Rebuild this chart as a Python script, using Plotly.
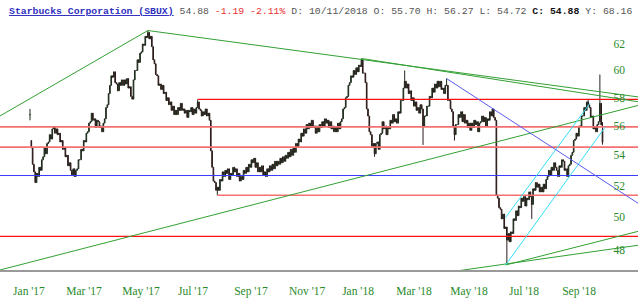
import math
import plotly.graph_objects as go

# ---------------- data ----------------
closes = [
    56.8, 54.5, 53.4, 52.9, 52.2, 52.8, 52.6, 53.2, 53.0, 53.7,
    53.9, 54.5, 54.1, 54.8, 54.9, 55.4, 55.1, 55.8, 55.9, 55.5,
    55.8, 55.4, 55.5, 54.9, 55.0, 54.4, 54.5, 53.9, 54.0, 53.3,
    53.5, 53.0, 52.7, 53.1, 52.6, 53.0, 53.1, 53.7, 53.7, 54.4,
    54.3, 55.0, 54.9, 55.5, 55.6, 56.2, 56.3, 56.9, 56.4, 56.5,
    55.9, 56.4, 56.3, 55.9, 56.0, 55.6, 56.2, 56.5, 57.3, 57.5,
    58.3, 58.9, 59.6, 59.5, 59.9, 59.1, 59.0, 58.5, 59.1, 58.9,
    59.3, 58.9, 59.3, 59.0, 59.4, 58.7, 58.8, 58.1, 57.9, 59.3,
    60.0, 60.0, 60.8, 60.6, 61.3, 61.4, 62.0, 61.9, 62.6, 62.5,
    62.9, 62.4, 62.6, 61.8, 60.8, 60.5, 59.7, 59.6, 58.9, 59.0,
    58.6, 58.9, 58.3, 58.4, 57.8, 58.0, 57.5, 57.7, 57.1, 57.4,
    56.8, 57.1, 56.8, 57.3, 57.1, 57.6, 57.1, 57.2, 56.9, 57.1,
    56.6, 57.1, 57.0, 57.3, 56.8, 57.2, 56.9, 57.3, 57.7, 57.2,
    57.1, 56.7, 57.0, 56.8, 57.2, 56.7, 56.9, 56.4, 54.3, 53.2,
    52.3, 52.2, 51.7, 51.9, 51.7, 52.4, 52.3, 52.9, 52.6, 53.0,
    52.8, 53.1, 52.4, 52.8, 52.7, 53.2, 52.9, 53.1, 52.6, 52.8,
    52.3, 52.6, 52.4, 53.0, 52.8, 53.2, 52.9, 53.4, 53.2, 53.7,
    53.5, 53.8, 53.2, 53.5, 52.9, 53.2, 52.9, 53.3, 52.7, 52.9,
    52.6, 53.1, 52.9, 53.3, 53.0, 53.4, 53.1, 53.6, 53.3, 53.6,
    53.4, 53.8, 53.5, 53.9, 53.6, 54.0, 53.8, 54.2, 53.9, 54.4,
    54.0, 54.5, 54.2, 54.8, 54.6, 55.1, 54.9, 55.5, 55.3, 55.8,
    55.5, 56.1, 55.8, 56.2, 55.9, 56.4, 55.9, 56.0, 55.5, 56.0,
    55.6, 56.1, 55.9, 56.3, 56.0, 56.5, 56.2, 56.4, 55.9, 56.3,
    55.8, 56.0, 55.6, 55.9, 55.6, 56.2, 55.8, 56.3, 56.5, 57.2,
    57.3, 58.0, 58.1, 58.9, 59.1, 59.6, 59.5, 60.0, 59.7, 60.2,
    59.9, 60.4, 60.3, 60.8, 59.8, 59.8, 59.1, 57.2, 56.7, 55.6,
    55.4, 54.6, 54.8, 54.1, 54.8, 54.9, 54.4, 55.4, 55.5, 56.3,
    55.8, 56.0, 55.4, 55.9, 55.8, 56.4, 56.2, 56.8, 56.3, 56.5,
    56.2, 57.0, 56.9, 57.8, 57.8, 58.7, 59.2, 58.7, 59.0, 58.3,
    58.5, 57.8, 58.0, 57.4, 57.7, 57.1, 57.3, 56.9, 57.5, 57.2,
    56.0, 56.7, 56.7, 57.4, 57.4, 58.1, 58.0, 58.7, 58.4, 59.0,
    58.7, 59.2, 58.8, 59.2, 58.6, 58.7, 58.3, 58.9, 58.9, 57.8,
    57.8, 57.2, 57.0, 56.0, 55.4, 56.1, 56.1, 56.8, 56.6, 57.0,
    56.3, 56.8, 56.2, 56.4, 55.9, 56.2, 55.7, 56.2, 55.9, 56.4,
    56.1, 56.3, 55.6, 56.2, 56.3, 56.7, 56.3, 56.6, 56.0, 56.5,
    56.4, 57.0, 56.7, 57.2, 56.6, 56.4, 51.4, 51.2, 50.6, 50.5,
    49.9, 50.2, 49.3, 49.4, 48.6, 49.0, 48.5, 49.1, 49.0, 49.9,
    49.8, 50.4, 50.1, 50.7, 50.6, 51.2, 51.0, 51.3, 50.7, 51.2,
    51.1, 51.6, 51.3, 50.8, 51.8, 51.7, 52.2, 51.9, 52.1, 51.6,
    51.9, 51.6, 52.1, 51.8, 52.4, 52.6, 53.0, 52.7, 53.2, 53.0,
    53.5, 53.2, 53.0, 52.6, 53.3, 53.2, 53.7, 53.6, 53.0, 53.1,
    52.6, 53.3, 53.4, 54.0, 54.2, 55.0, 55.1, 55.5, 55.3, 56.0,
    56.0, 56.7, 56.7, 57.3, 57.1, 57.7, 57.5, 57.3, 56.6, 56.7,
    55.8, 55.9, 55.6, 56.1, 56.3, 57.6, 56.07, 54.88,
]
# candles whose open is not the previous close
gap_idx = [1, 437]
gap_open = [55.0, 55.70]
# wicks that reach beyond the body
high_idx = [0, 90, 128, 253, 286, 318, 426, 435, 437]
high_val = [57.2, 63.05, 57.88, 60.9, 60.0, 59.4, 57.9, 59.7, 56.27]
low_idx = [0, 143, 263, 300, 324, 364, 383, 437]
low_val = [56.4, 51.39, 53.9, 54.7, 55.0, 47.12, 49.9, 54.72]

tick_labels = ["Jan '17", "Mar '17", "May '17", "Jul '17", "Sep '17", "Nov '17",
               "Jan '18", "Mar '18", "May '18", "Jul '18", "Sep '18"]
tick_pos = [-0.8, 41.2, 84.7, 124.4, 168.7, 211.5, 250.4, 293.1, 335.1, 377.1, 419.1]
y_ticks = [48, 50, 52, 54, 56, 58, 60, 62]

# horizontal support / resistance levels
level_price = [57.88, 55.94, 54.55, 52.66, 51.39, 48.83]
level_start = [128, -23, -23, -23, 143, -23]
level_kind = ["red", "pink", "pink", "blue", "pink", "red"]

# drawn trend lines (index, price) -> (index, price)
trend_x0 = [-23, 90, 253, -23, 328, 363, 363, 363, 318]
trend_p0 = [56.7, 63.05, 60.9, 46.83, 46.8, 47.12, 47.12, 49.98, 59.4]
trend_x1 = [90, 465, 465, 465, 465, 465, 439, 427.5, 465]
trend_p1 = [63.05, 58.05, 57.7, 57.47, 48.3, 49.15, 55.92, 57.61, 50.83]
trend_kind = ["green", "green", "green", "green", "green", "green", "cyan", "cyan", "blue2"]

name = "Starbucks Corporation (SBUX)"
last_date = "10/11/2018"
chg = -1.19
chg_pct = -2.11
y_val = 68.16

# ---------------- build candles ----------------
n = len(closes)
xs = list(range(n))
opens = [closes[0]] + closes[:-1]
for i, v in zip(gap_idx, gap_open):
    opens[i] = v
highs = [max(o, c) for o, c in zip(opens, closes)]
lows = [min(o, c) for o, c in zip(opens, closes)]
for i, v in zip(high_idx, high_val):
    highs[i] = v
for i, v in zip(low_idx, low_val):
    lows[i] = v

styles = {
    "red": dict(color="#ff1010", width=1.2),
    "pink": dict(color="#f47070", width=1.6),
    "blue": dict(color="#3a3aff", width=1),
    "green": dict(color="#33a033", width=1),
    "cyan": dict(color="#33e0f5", width=1),
    "blue2": dict(color="#5a5af0", width=1),
}

X_LEFT, X_RIGHT = -22.9, 464.1

fig = go.Figure()
for p, s, k in zip(level_price, level_start, level_kind):
    fig.add_trace(go.Scatter(x=[s, X_RIGHT + 2], y=[p, p], mode="lines",
                             line=styles[k], hoverinfo="skip", showlegend=False))
for a, b, c, d, k in zip(trend_x0, trend_p0, trend_x1, trend_p1, trend_kind):
    fig.add_trace(go.Scatter(x=[a, c], y=[b, d], mode="lines",
                             line=styles[k], hoverinfo="skip", showlegend=False))

fig.add_trace(go.Candlestick(
    x=xs, open=opens, high=highs, low=lows, close=closes,
    increasing=dict(line=dict(color="#1e2a1e", width=1), fillcolor="#3f8f3f"),
    decreasing=dict(line=dict(color="#2a1a1a", width=1), fillcolor="#8a4040"),
    whiskerwidth=0, showlegend=False, hoverinfo="skip",
))

last = n - 1
hdr = (
    f"<span style='color:#3030c0;font-weight:bold;text-decoration:underline'>{name}</span> "
    f"<span style='color:#555555'>{closes[last]:.2f}</span> "
    f"<span style='color:#e83030'>{chg:.2f} {chg_pct:.2f}%</span> "
    f"<span style='color:#555555'>D: {last_date} O: {opens[last]:.2f} H: {highs[last]:.2f} "
    f"L: {lows[last]:.2f}</span> "
    f"<span style='color:#111111;font-weight:bold'>C: {closes[last]:.2f}</span> "
    f"<span style='color:#555555'>Y: {y_val:.2f}</span>"
)
fig.add_annotation(text=hdr, xref="paper", yref="paper", x=7 / 638, y=1 + 8 / 250,
                   xanchor="left", yanchor="middle", showarrow=False,
                   font=dict(family="Liberation Mono", size=9.8, color="#555555"))

fig.update_layout(
    width=640, height=299,
    margin=dict(l=0, r=2, t=20, b=29),
    paper_bgcolor="white", plot_bgcolor="white",
    showlegend=False,
    xaxis=dict(range=[X_LEFT, X_RIGHT], tickvals=tick_pos, ticktext=tick_labels,
               tickfont=dict(family="Liberation Serif", size=11.5, color="#2a8a2a"),
               showgrid=False, zeroline=False, showline=True, linecolor="#9a9a9a",
               linewidth=2, ticks="", rangeslider=dict(visible=False),
               ticklabelstandoff=9),
    yaxis=dict(type="log", range=[math.log10(46.83), math.log10(63.88)], side="right",
               tickvals=y_ticks, ticktext=[str(v) for v in y_ticks],
               ticklabelposition="inside", ticks="",
               tickfont=dict(family="Liberation Serif", size=11.5, color="#2a8a2a"),
               showgrid=False, zeroline=False, showline=False, ticklabelstandoff=10),
)

fig.write_html("out.html")
